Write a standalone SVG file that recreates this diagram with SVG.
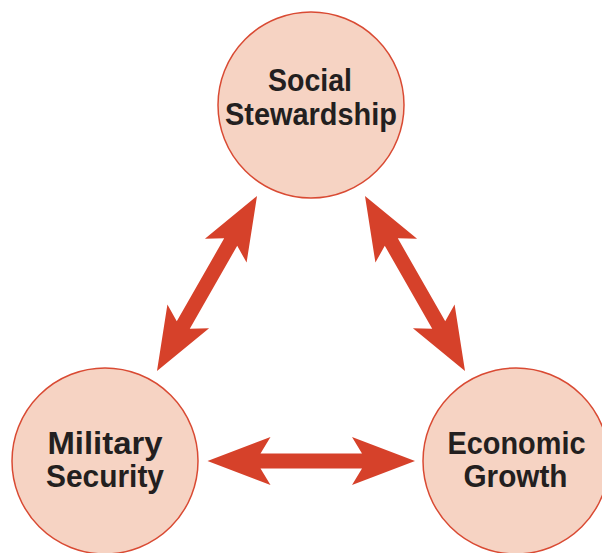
<svg xmlns="http://www.w3.org/2000/svg" width="602" height="553" viewBox="0 0 602 553">
<style>
.node circle{fill:#f6d3c3;stroke:#d94a33;stroke-width:1.5}
.node text{font-family:"Liberation Sans",Arial,sans-serif;font-weight:bold;font-size:32px;fill:#231f20;text-anchor:middle}
.arrow{fill:#d6412a}
</style>
<rect width="602" height="553" fill="#ffffff"/>
<g id="connectors">
<path class="arrow" transform="translate(257,196) rotate(119.74)" d="M0,0 L63,-24 L53,-7.5 L148.6,-7.5 L138.6,-24 L201.6,0 L138.6,24 L148.6,7.5 L53,7.5 L63,24 Z"/>
<path class="arrow" transform="translate(365,196) rotate(60.26)" d="M0,0 L63,-24 L53,-7.5 L148.6,-7.5 L138.6,-24 L201.6,0 L138.6,24 L148.6,7.5 L53,7.5 L63,24 Z"/>
<path class="arrow" transform="translate(207.5,461)" d="M0,0 L63,-24 L53,-7.5 L154.5,-7.5 L144.5,-24 L207.5,0 L144.5,24 L154.5,7.5 L53,7.5 L63,24 Z"/>
</g>
<g id="social" class="node">
<circle cx="311" cy="105" r="93"/>
<text x="310" y="91" textLength="84" lengthAdjust="spacingAndGlyphs">Social</text>
<text x="311" y="125" textLength="172" lengthAdjust="spacingAndGlyphs">Stewardship</text>
</g>
<g id="military" class="node">
<circle cx="105" cy="461" r="93"/>
<text x="105" y="454" textLength="115" lengthAdjust="spacingAndGlyphs">Military</text>
<text x="105" y="487" textLength="118" lengthAdjust="spacingAndGlyphs">Security</text>
</g>
<g id="economic" class="node">
<circle cx="516" cy="461" r="93"/>
<text x="516.5" y="454" textLength="138" lengthAdjust="spacingAndGlyphs">Economic</text>
<text x="515.5" y="487" textLength="104" lengthAdjust="spacingAndGlyphs">Growth</text>
</g>
</svg>
